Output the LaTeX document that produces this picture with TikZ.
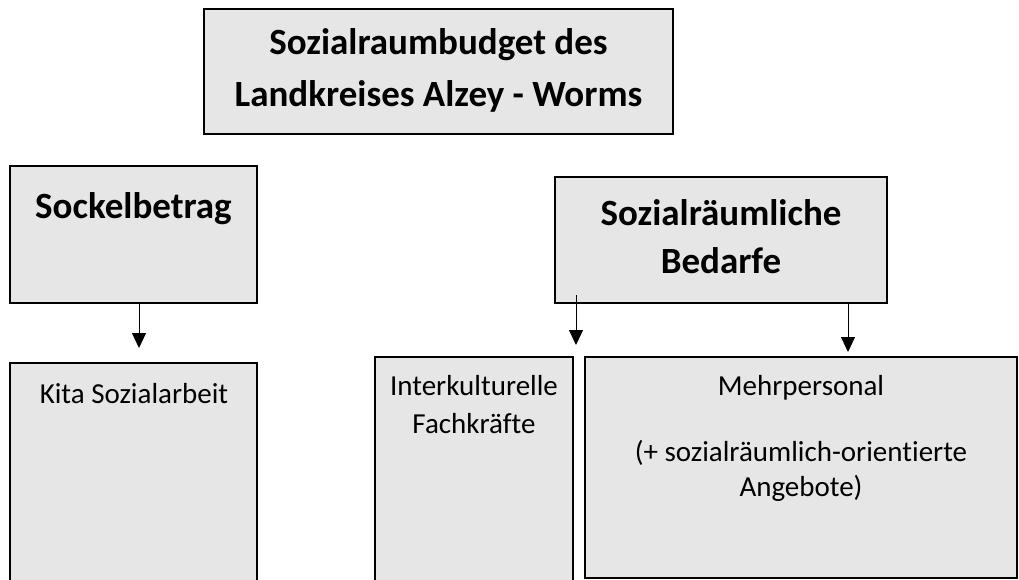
\documentclass[tikz,border=0pt]{standalone}
\usepackage{fontspec}
\setmainfont[Ligatures=NoCommon]{Carlito}
\usetikzlibrary{arrows.meta}
\definecolor{boxfill}{RGB}{230,230,230}
\tikzset{
  box/.style={draw=black, line width=1.8pt, fill=boxfill},
  head/.style={font=\fontsize{37}{44}\selectfont\bfseries, anchor=base, inner sep=0pt},
  plain/.style={font=\fontsize{29}{35}\selectfont, anchor=base, inner sep=0pt},
  arr/.style={line width=1pt, -{Triangle[width=14pt,length=15pt]}}
}
\begin{document}
\begin{tikzpicture}[x=1pt,y=-1pt]
\useasboundingbox (0,0) rectangle (1019,580);
\clip (0,0) rectangle (1019,580);
% boxes
\path[box] (204,9) rectangle (673,134);
\path[box] (10,166) rectangle (257,303);
\path[box] (555,177) rectangle (887,303);
\path[box] (10,363) rectangle (257,590);
\path[box] (375,357) rectangle (573,590);
\path[box] (585,357) rectangle (1017,578);
% named box frames (for anchors)
\node[inner sep=0pt, minimum width=469pt, minimum height=125pt] (top) at (438.5,71.5) {};
\node[inner sep=0pt, minimum width=247pt, minimum height=137pt] (sock) at (133.5,234.5) {};
\node[inner sep=0pt, minimum width=332pt, minimum height=126pt] (sr) at (721,240) {};
% texts
\node[head] (t1) at (438.5,55) {Sozialraumbudget des};
\node[head] (t2) at (438.5,107) {Landkreises Alzey - Worms};
\node[head] (s1) at (133.5,218) {Sockelbetrag};
\node[head] (r1) at (721,225) {Sozialräumliche};
\node[head] (r2) at (721,273) {Bedarfe};
\node[plain] (k1) at (134,403) {Kita Sozialarbeit};
\node[plain] (i1) at (474,395) {Interkulturelle};
\node[plain] (i2) at (474,433) {Fachkräfte};
\node[plain] (m1) at (801,395) {Mehrpersonal};
\node[plain] (m2) at (801,461) {(+ sozialräumlich-orientierte};
\node[plain] (m3) at (801,496) {Angebote)};
% arrows
\coordinate (a1) at (139,348);
\coordinate (a2s) at (576,295);
\coordinate (a2) at (576,345);
\coordinate (a3) at (848,352);
\draw[arr] (sock.south -| a1) -- (a1);
\draw[arr] (a2s) -- (a2);
\draw[arr] (sr.south -| a3) -- (a3);
\end{tikzpicture}
\end{document}
